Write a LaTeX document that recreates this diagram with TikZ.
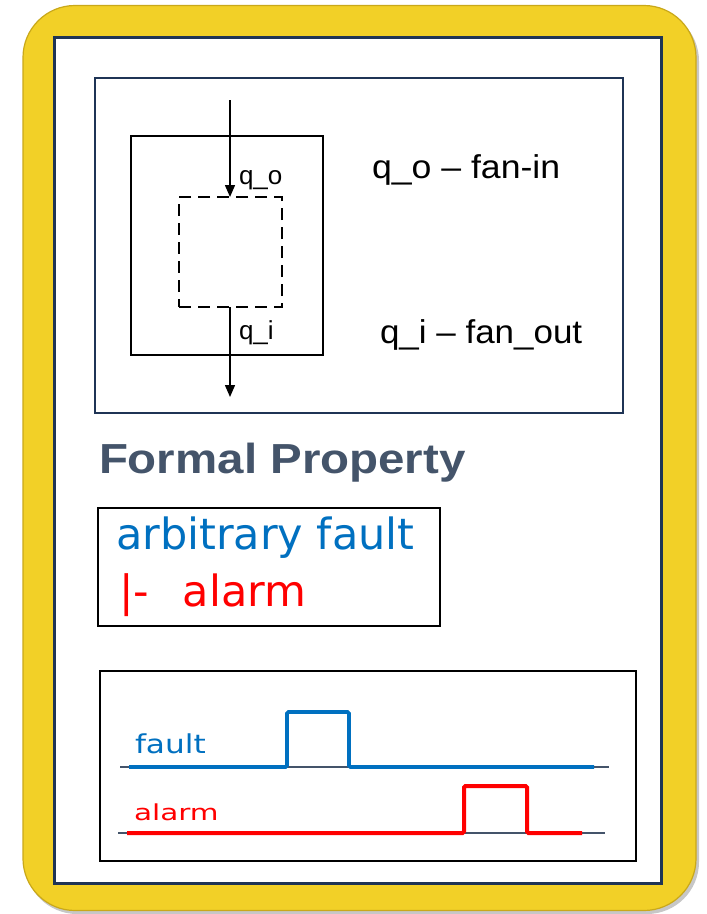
\documentclass[tikz,border=0pt]{standalone}
\usepackage{fontspec}
\setmainfont{Liberation Sans}
\newfontfamily\verd{DejaVu Sans}
\usetikzlibrary{arrows.meta}
\definecolor{ylw}{HTML}{F2D027}
\definecolor{ylwedge}{HTML}{C9A81A}
\definecolor{navy}{HTML}{1F3455}
\definecolor{slate}{HTML}{44546A}
\definecolor{fblue}{HTML}{0070C0}
\definecolor{fred}{HTML}{FF0000}
\tikzset{
  box/.style={draw, inner sep=0pt, outer sep=0pt},
  lbl/.style={anchor=base west, inner sep=0pt, outer sep=0pt},
  arr/.style={line width=1.5pt, -{Triangle[width=10pt,length=12pt]}},
  baseln/.style={draw=slate, line width=1.6pt},
  wave/.style={line width=3.6pt, rounded corners=1.5pt},
}
\begin{document}
\begin{tikzpicture}[x=1pt,y=-1pt]
\useasboundingbox (0,0) rectangle (707,914);
% card
\fill[black!22, rounded corners=52] (25,9) rectangle (699,914);
\node[box, draw=ylwedge, fill=ylw, line width=1.2pt, rounded corners=52,
      minimum width=673pt, minimum height=905pt] (card) at (359.5,458) {};
\node[box, draw=navy, fill=white, line width=2.8pt,
      minimum width=607pt, minimum height=846pt] (panel) at (358.3,460.8) {};
% top diagram box
\node[box, draw=navy, line width=2.2pt, minimum width=528pt, minimum height=335pt] (topbox) at (359,245.5) {};
\node[box, draw=black, line width=1.8pt, minimum width=192pt, minimum height=219pt] (sq) at (227,245.5) {};
\node[box, draw=black, line width=2.8pt, dash pattern=on 12pt off 7pt,
      minimum width=103pt, minimum height=110pt] (dash) at (230.5,252) {};
\coordinate (inTop) at (230,100);
\coordinate (outBot) at (230,397);
\draw[arr] (inTop) -- (inTop |- dash.north);
\draw[arr] (outBot |- dash.south) -- (outBot);
\node[lbl, font=\fontsize{26}{30}\selectfont] (qo) at (239,184) {q\_o};
\node[lbl, font=\fontsize{26}{30}\selectfont] (qi) at (239,339) {q\_i};
\node[lbl, font=\fontsize{33}{40}\selectfont] (fanin) at (372,178) {\scalebox{1.08}[1]{q\_o – fan-in}};
\node[lbl, font=\fontsize{33}{40}\selectfont] (fanout) at (380,343) {\scalebox{1.06}[1]{q\_i – fan\_out}};
% title
\node[lbl, text=slate, font=\fontsize{42}{48}\selectfont\bfseries] (title) at (99,473) {\scalebox{1.13}[1]{Formal Property}};
% formula box
\node[box, draw=black, line width=1.8pt, minimum width=342pt, minimum height=118pt] (fbox) at (269,567) {};
\node[lbl, text=fblue, font=\verd\fontsize{43}{50}\selectfont] (arb) at (116,549) {arbitrary fault};
\node[lbl, text=fred, font=\verd\fontsize{43}{50}\selectfont] (alm) at (119,606) {|-\hspace{34pt}alarm};
% timing box
\node[box, draw=black, line width=2.6pt, minimum width=536pt, minimum height=190pt] (tbox) at (368,766) {};
\draw[baseln] (120,767) -- (609,767);
\draw[wave, draw=fblue] (129,767) -- (287,767) -- (287,712) -- (349,712) -- (349,767) -- (594,767);
\draw[baseln] (118,833) -- (605,833);
\draw[wave, draw=fred, line width=4pt] (127,833) -- (464,833) -- (464,786) -- (527,786) -- (527,833) -- (582,833);
\node[lbl, text=fblue, font=\verd\fontsize{26}{30}\selectfont] (fl) at (135,753) {\scalebox{1.2}[1]{fault}};
\node[lbl, text=fred, font=\verd\fontsize{22}{26}\selectfont] (al) at (134,820) {\scalebox{1.34}[1]{alarm}};
\end{tikzpicture}
\end{document}
